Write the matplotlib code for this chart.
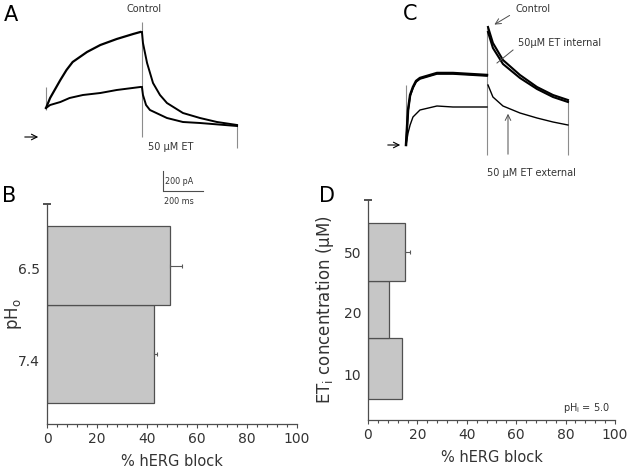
import numpy as np
import matplotlib; matplotlib.use("Agg")
import matplotlib.pyplot as plt

# ---- data ----
# panel A traces: time (ms), current (pA)
a_ctl_step_t = [0, 20, 45, 70, 100, 130, 200, 265, 345, 425, 460]
a_ctl_step_i = [290, 390, 480, 570, 670, 750, 850, 920, 980, 1030, 1050]
a_et_step_t = [0, 20, 70, 115, 180, 265, 345, 460]
a_et_step_i = [290, 320, 350, 390, 420, 440, 470, 500]
a_ctl_tail_t = [468, 473, 493, 522, 556, 590, 668, 751, 834, 932]
a_ctl_tail_i = [1050, 940, 740, 540, 420, 340, 240, 190, 150, 120]
a_et_tail_t = [468, 473, 488, 507, 590, 668, 751, 932]
a_et_tail_i = [500, 420, 320, 270, 190, 150, 140, 110]
a_cap_t = [0, 468, 932]
a_cap_lo = [270, 0, -110]
a_cap_hi = [500, 1150, 120]

# panel C traces
c_ctl_step_t = [0, 10, 20, 34, 49, 68, 151, 229, 312, 395]
c_ctl_step_i = [0, 350, 500, 580, 640, 670, 720, 720, 710, 700]
c_int_step_i = [0, 340, 490, 570, 630, 660, 710, 710, 700, 690]
c_ext_step_t = [0, 10, 20, 34, 68, 151, 229, 395]
c_ext_step_i = [0, 120, 200, 280, 350, 390, 380, 380]
c_tail_t = [400, 424, 473, 556, 639, 717, 790]
c_ctl_tail_i = [1180, 1020, 850, 700, 580, 500, 450]
c_int_tail_i = [1130, 970, 810, 670, 560, 480, 430]
c_ext_tail_i = [600, 480, 390, 320, 270, 230, 200]
c_cap_t = [0, 395, 790]
c_cap_lo = [0, -100, -100]
c_cap_hi = [600, 1180, 450]

# panel B bars
ph_labels = ["7.4", "6.5"]
ph_block = [42.8, 49.2]
ph_err = [1.2, 4.8]

# panel D bars
et_labels = ["10", "20", "50"]
et_block = [13.6, 8.4, 14.9]
et_err = [0, 0, 2.3]

# ---- layout ----
W, H = 629, 470
MS_PX = 200 / 41.0      # ms per pixel (scale bar)
PA_PX = 10.0            # pA per pixel
BAR = "#c6c6c6"; EDGE = "#505050"; TXT = "#333333"

fig = plt.figure(figsize=(W / 100, H / 100), dpi=100)


def trace_axes(x0, y0):
    ax = fig.add_axes([0, 0, 1, 1])
    ax.set_xlim(-x0 * MS_PX, (W - x0) * MS_PX)
    ax.set_ylim((y0 - H) * PA_PX, y0 * PA_PX)
    ax.axis("off"); ax.patch.set_alpha(0)
    return ax


# panel A traces
ta = trace_axes(46, 137)
ta.vlines(a_cap_t, a_cap_lo, a_cap_hi, color="0.55", lw=0.8)
ta.plot(a_ctl_step_t, a_ctl_step_i, color="k", lw=1.6)
ta.plot(a_et_step_t, a_et_step_i, color="k", lw=1.4)
ta.plot(a_ctl_tail_t, a_ctl_tail_i, color="k", lw=1.4)
ta.plot(a_et_tail_t, a_et_tail_i, color="k", lw=1.4)

# panel C traces
tc = trace_axes(406, 145)
tc.vlines(c_cap_t, c_cap_lo, c_cap_hi, color="0.55", lw=0.8)
tc.plot(c_ctl_step_t, c_ctl_step_i, color="k", lw=1.8)
tc.plot(c_ctl_step_t, c_int_step_i, color="k", lw=1.2)
tc.plot(c_ext_step_t, c_ext_step_i, color="k", lw=1.0)
tc.plot(c_tail_t, c_ctl_tail_i, color="k", lw=1.5)
tc.plot(c_tail_t, c_int_tail_i, color="k", lw=1.5)
tc.plot(c_tail_t, c_ext_tail_i, color="k", lw=1.0)

# overlay in pixel coords for letters, labels, arrows, scale bar
ov = fig.add_axes([0, 0, 1, 1])
ov.set_xlim(0, W); ov.set_ylim(H, 0); ov.axis("off"); ov.patch.set_alpha(0)
for s, x, y in [("A", 4, 15), ("B", 2, 196), ("C", 403, 14), ("D", 319, 196)]:
    ov.text(x, y, s, fontsize=15, va="center", ha="left", color="k")
arr = dict(arrowstyle="->", color="k", lw=0.8)
ov.annotate("", xy=(41, 137), xytext=(22, 137), arrowprops=arr)
ov.annotate("", xy=(403, 145), xytext=(385, 145), arrowprops=arr)
ov.annotate("", xy=(492, 26), xytext=(512, 14), arrowprops=dict(arrowstyle="->", color="0.3", lw=0.7))
ov.annotate("", xy=(508, 111), xytext=(508, 157), arrowprops=dict(arrowstyle="->", color="0.3", lw=0.7))
ov.plot([513, 497], [50, 63], color="0.3", lw=0.7)
ov.text(144, 9, "Control", fontsize=7, ha="center", va="center", color=TXT)
ov.text(148, 147, "50 \u03bcM ET", fontsize=7, ha="left", va="center", color=TXT)
ov.text(533, 9, "Control", fontsize=7, ha="center", va="center", color=TXT)
ov.text(518, 43, "50\u03bcM ET internal", fontsize=7, ha="left", va="center", color=TXT)
ov.text(487, 173, "50 \u03bcM ET external", fontsize=7, ha="left", va="center", color=TXT)
# scale bar
ov.plot([163, 163], [171, 190], color="0.3", lw=0.8)
ov.plot([163, 203], [191, 191], color="0.3", lw=0.8)
ov.text(165, 182, "200 pA", fontsize=5.8, ha="left", va="center", color=TXT)
ov.text(164, 201, "200 ms", fontsize=5.8, ha="left", va="center", color=TXT)


def bar_axes(rect, labels, vals, errs, bottoms, heights, ticks, ylabel, ylab_x, xlab_y):
    ax = fig.add_axes(rect)
    ax.barh(bottoms, vals, height=heights, align="edge", color=BAR,
            edgecolor=EDGE, lw=0.9, zorder=2)
    ctr = [b + h / 2 for b, h in zip(bottoms, heights)]
    for v, e, c in zip(vals, errs, ctr):
        if e > 0:
            ax.errorbar(v, c, xerr=[[0], [e]], color="0.35", lw=0.8,
                        capsize=1.5, capthick=0.8, zorder=3)
    ax.set_xlim(0, 100); ax.set_ylim(0, 220)
    ax.set_yticks(ticks, labels)
    ax.set_xticks(range(0, 101, 20))
    ax.set_xticks(range(0, 101, 4), minor=True)
    ax.tick_params(axis="y", length=0, pad=5, labelsize=10, labelcolor=TXT)
    ax.tick_params(axis="x", which="major", length=3, width=0.8, pad=3,
                   labelsize=10, labelcolor=TXT, color="0.3")
    ax.tick_params(axis="x", which="minor", length=2, width=0.8, color="0.3")
    for side in ("top", "right"):
        ax.spines[side].set_visible(False)
    for side in ("left", "bottom"):
        ax.spines[side].set_color("0.3"); ax.spines[side].set_linewidth(0.9)
    ax.plot([0], [220], marker="_", ms=6, mew=1.2, color="0.2", clip_on=False)
    ax.set_xlabel("% hERG block", fontsize=10.5, color=TXT)
    ax.set_ylabel(ylabel, fontsize=12, color=TXT)
    ax.xaxis.set_label_coords(0.5, xlab_y)
    ax.yaxis.set_label_coords(ylab_x, 0.5)
    ax.xaxis.label.set_va("center"); ax.yaxis.label.set_va("center")
    return ax


axB = bar_axes([47 / W, 1 - 424 / H, 250 / W, 220 / H], ph_labels, ph_block, ph_err,
               [21, 119], [98, 79], [64, 156], "pH$_\\mathregular{o}$",
               (13 - 47) / 250, (424 - 462) / 220)
axD = bar_axes([368 / W, 1 - 420 / H, 247 / W, 220 / H], et_labels, et_block, et_err,
               [21, 82, 139], [61, 57, 58], [45, 107, 168],
               "ET$_\\mathregular{i}$ concentration (\u03bcM)",
               (325 - 368) / 247, (420 - 457) / 220)
axD.text(98, 12, "pH$_\\mathregular{i}$ = 5.0", fontsize=7, ha="right", va="center", color=TXT)

fig.savefig("out.png", dpi=100)
